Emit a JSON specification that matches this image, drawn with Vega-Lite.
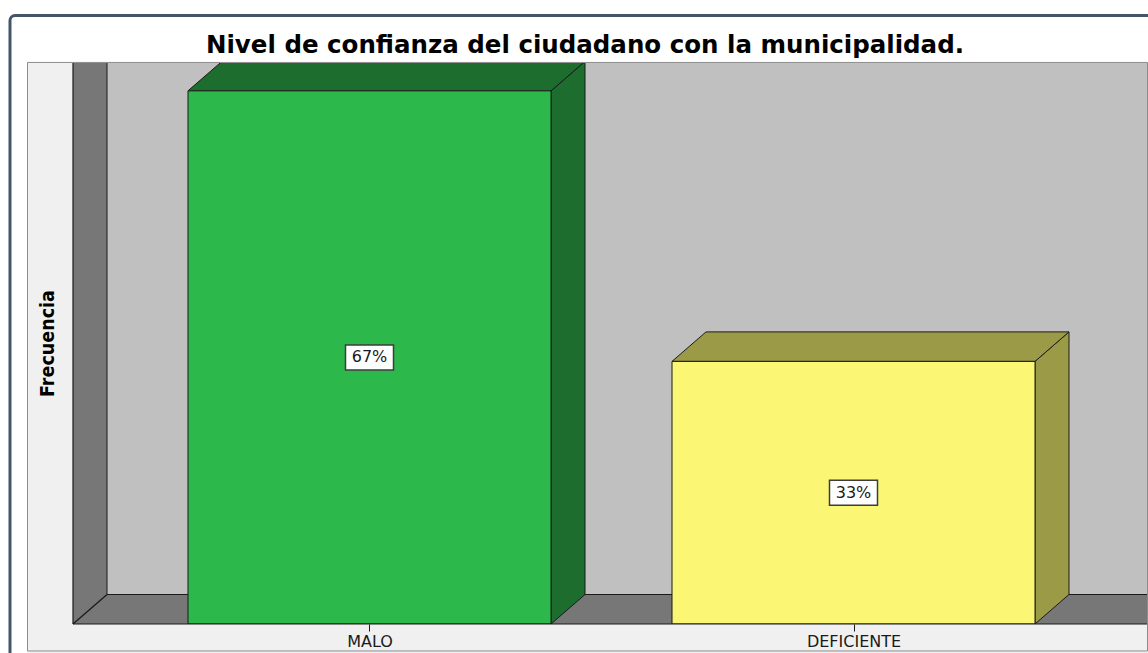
{
  "$schema": "https://vega.github.io/schema/vega-lite/v6.json",
  "width": 1074,
  "height": 561,
  "autosize": {"type": "none"},
  "padding": {"left": 73, "top": 63, "right": 1, "bottom": 29},
  "background": "#f0f0f0",
  "config": {
    "view": {"stroke": null},
    "axisX": {
      "grid": false, "domain": false,
      "ticks": true, "tickColor": "#1a1a1a", "tickSize": 7, "tickWidth": 1,
      "labelFont": "DejaVu Sans", "labelFontSize": 16, "labelColor": "#1a1a1a",
      "labelPadding": 2, "labelAngle": 0, "labelOverlap": false, "labelFlush": false
    },
    "axisY": {
      "grid": false, "ticks": false, "labels": false, "domain": false,
      "titleFont": "Liberation Sans Narrow, DejaVu Sans Condensed, DejaVu Sans",
      "titleFontSize": 19.5, "titleFontWeight": "bold", "titleColor": "#000000",
      "titleAngle": 270, "titleAlign": "center", "titleBaseline": "alphabetic",
      "titleX": -20, "titleY": 280
    }
  },
  "datasets": {
    "niveles": [
      {"nivel": "MALO", "proporcion": 0.67},
      {"nivel": "DEFICIENTE", "proporcion": 0.33}
    ]
  },
  "layer": [
    {
      "data": {"values": [{}]},
      "mark": {"type": "rect", "fill": "white"},
      "encoding": {
        "x": {"datum": 0.0, "type": "quantitative", "scale": {"domain": [0.3874, 2.6064], "nice": false, "zero": false}},
        "x2": {"datum": 0.29339},
        "y": {"datum": -0.2, "type": "quantitative", "scale": {"domain": [0, 0.705], "nice": false, "zero": false}},
        "y2": {"datum": 1.0}
      }
    },
    {
      "data": {"values": [{}]},
      "mark": {"type": "rect", "fill": "white"},
      "encoding": {
        "x": {"datum": 0.0, "type": "quantitative", "scale": {"domain": [0.3874, 2.6064], "nice": false, "zero": false}},
        "x2": {"datum": 2.8},
        "y": {"datum": 0.7057, "type": "quantitative", "scale": {"domain": [0, 0.705], "nice": false, "zero": false}},
        "y2": {"datum": 1.0}
      }
    },
    {
      "data": {"values": [{}]},
      "mark": {"type": "rect", "fill": "white", "fillOpacity": 0, "stroke": "#44546a", "strokeWidth": 3, "cornerRadius": 5},
      "encoding": {
        "x": {"datum": 0.25723, "type": "quantitative", "scale": {"domain": [0.3874, 2.6064], "nice": false, "zero": false}},
        "x2": {"datum": 2.6333},
        "y": {"datum": 0.7647, "type": "quantitative", "scale": {"domain": [0, 0.705], "nice": false, "zero": false}},
        "y2": {"datum": -0.0578}
      }
    },
    {
      "data": {"values": [{}]},
      "mark": {"type": "rect", "fill": "white", "fillOpacity": 0, "stroke": "#8c8c8c", "strokeWidth": 1},
      "encoding": {
        "x": {"datum": 0.29339, "type": "quantitative", "scale": {"domain": [0.3874, 2.6064], "nice": false, "zero": false}},
        "x2": {"datum": 2.60744},
        "y": {"datum": 0.7057, "type": "quantitative", "scale": {"domain": [0, 0.705], "nice": false, "zero": false}},
        "y2": {"datum": -0.0339}
      }
    },
    {
      "data": {"values": [{}]},
      "mark": {"type": "rect", "fill": "#777777"},
      "encoding": {
        "x": {"datum": 0.3874, "type": "quantitative", "scale": {"domain": [0.3874, 2.6064], "nice": false, "zero": false}},
        "x2": {"datum": 2.6064},
        "y": {"datum": 0, "type": "quantitative", "scale": {"domain": [0, 0.705], "nice": false, "zero": false}},
        "y2": {"datum": 0.705}
      }
    },
    {
      "data": {"values": [{}]},
      "mark": {"type": "rect", "fill": "#c0c0c0"},
      "encoding": {
        "x": {"datum": 0.45765, "type": "quantitative", "scale": {"domain": [0.3874, 2.6064], "nice": false, "zero": false}},
        "x2": {"datum": 2.6064},
        "y": {"datum": 0.03707, "type": "quantitative", "scale": {"domain": [0, 0.705], "nice": false, "zero": false}},
        "y2": {"datum": 0.705}
      }
    },
    {
      "data": {"values": [{}]},
      "mark": {"type": "rule", "stroke": "#1a1a1a", "strokeWidth": 1},
      "encoding": {
        "x": {"datum": 0.45765, "type": "quantitative", "scale": {"domain": [0.3874, 2.6064], "nice": false, "zero": false}},
        "y": {"datum": 0.03707, "type": "quantitative", "scale": {"domain": [0, 0.705], "nice": false, "zero": false}},
        "y2": {"datum": 0.705}
      }
    },
    {
      "data": {"values": [{}]},
      "mark": {"type": "rule", "stroke": "#1a1a1a", "strokeWidth": 1},
      "encoding": {
        "x": {"datum": 0.45765, "type": "quantitative", "scale": {"domain": [0.3874, 2.6064], "nice": false, "zero": false}},
        "x2": {"datum": 2.6064},
        "y": {"datum": 0.03707, "type": "quantitative", "scale": {"domain": [0, 0.705], "nice": false, "zero": false}}
      }
    },
    {
      "data": {"values": [{}]},
      "mark": {"type": "rule", "stroke": "#1a1a1a", "strokeWidth": 1.3},
      "encoding": {
        "x": {"datum": 0.3874, "type": "quantitative", "scale": {"domain": [0.3874, 2.6064], "nice": false, "zero": false}},
        "x2": {"datum": 0.45765},
        "y": {"datum": 0, "type": "quantitative", "scale": {"domain": [0, 0.705], "nice": false, "zero": false}},
        "y2": {"datum": 0.03707}
      }
    },
    {
      "data": {"name": "niveles"},
      "transform": [
        {"window": [{"op": "row_number", "as": "idx"}]},
        {"calculate": "datum.idx + 0.375", "as": "x1"},
        {"calculate": "[0, 1]", "as": "t"},
        {"flatten": ["t"]},
        {"calculate": "datum.x1 + datum.t * 0.07025", "as": "sx"},
        {"calculate": "datum.t * 0.03707", "as": "sy"},
        {"calculate": "datum.proporcion + datum.t * 0.03707", "as": "sy2"}
      ],
      "mark": {"type": "area", "orient": "vertical", "clip": true, "stroke": "#1a1a1a", "strokeWidth": 1},
      "encoding": {
        "x": {"field": "sx", "type": "quantitative", "title": null, "scale": {"domain": [0.3874, 2.6064], "nice": false, "zero": false}},
        "y": {"field": "sy", "type": "quantitative", "title": "Frecuencia", "stack": null, "scale": {"domain": [0, 0.705], "nice": false, "zero": false}},
        "y2": {"field": "sy2"},
        "detail": {"field": "nivel", "type": "nominal"},
        "fill": {"condition": {"test": "datum.nivel === 'MALO'", "value": "#1d6e2e"}, "value": "#9b9a47"}
      }
    },
    {
      "data": {"name": "niveles"},
      "transform": [
        {"window": [{"op": "row_number", "as": "idx"}]},
        {"calculate": "datum.idx - 0.375", "as": "x0"},
        {"calculate": "datum.idx + 0.375", "as": "x1"},
        {"calculate": "[0, 1]", "as": "t"},
        {"flatten": ["t"]},
        {"calculate": "datum.x0 + datum.t * 0.07025", "as": "tx0"},
        {"calculate": "datum.x1 + datum.t * 0.07025", "as": "tx1"},
        {"calculate": "datum.proporcion + datum.t * 0.03707", "as": "ty"}
      ],
      "mark": {"type": "area", "orient": "horizontal", "clip": true, "stroke": "#1a1a1a", "strokeWidth": 1},
      "encoding": {
        "y": {"field": "ty", "type": "quantitative", "title": "Frecuencia", "scale": {"domain": [0, 0.705], "nice": false, "zero": false}},
        "x": {"field": "tx0", "type": "quantitative", "title": null, "stack": null, "scale": {"domain": [0.3874, 2.6064], "nice": false, "zero": false}},
        "x2": {"field": "tx1"},
        "detail": {"field": "nivel", "type": "nominal"},
        "fill": {"condition": {"test": "datum.nivel === 'MALO'", "value": "#1d6e2e"}, "value": "#9b9a47"}
      }
    },
    {
      "data": {"name": "niveles"},
      "transform": [
        {"window": [{"op": "row_number", "as": "idx"}]},
        {"calculate": "datum.idx - 0.375", "as": "x0"},
        {"calculate": "datum.idx + 0.375", "as": "x1"}
      ],
      "mark": {"type": "rect", "clip": true, "stroke": "#1a1a1a", "strokeWidth": 1},
      "encoding": {
        "x": {
          "field": "x0", "type": "quantitative", "title": null,
          "scale": {"domain": [0.3874, 2.6064], "nice": false, "zero": false},
          "axis": {
            "values": [1, 2],
            "labelExpr": "datum.value < 1.5 ? 'MALO' : 'DEFICIENTE'",
            "title": null
          }
        },
        "x2": {"field": "x1"},
        "y": {
          "field": "proporcion", "type": "quantitative", "title": "Frecuencia",
          "scale": {"domain": [0, 0.705], "nice": false, "zero": false},
          "axis": {"title": "Frecuencia"}
        },
        "y2": {"datum": 0},
        "fill": {"condition": {"test": "datum.nivel === 'MALO'", "value": "#2db84b"}, "value": "#fbf774"}
      }
    },
    {
      "data": {"values": [{}]},
      "mark": {"type": "rule", "stroke": "#1a1a1a", "strokeWidth": 1.2},
      "encoding": {
        "x": {"datum": 0.3874, "type": "quantitative", "scale": {"domain": [0.3874, 2.6064], "nice": false, "zero": false}},
        "y": {"datum": 0, "type": "quantitative", "scale": {"domain": [0, 0.705], "nice": false, "zero": false}},
        "y2": {"datum": 0.705}
      }
    },
    {
      "data": {"values": [{}]},
      "mark": {"type": "rule", "stroke": "#1a1a1a", "strokeWidth": 1.2},
      "encoding": {
        "x": {"datum": 0.3874, "type": "quantitative", "scale": {"domain": [0.3874, 2.6064], "nice": false, "zero": false}},
        "x2": {"datum": 2.6064},
        "y": {"datum": 0, "type": "quantitative", "scale": {"domain": [0, 0.705], "nice": false, "zero": false}}
      }
    },
    {
      "data": {"name": "niveles"},
      "transform": [
        {"window": [{"op": "row_number", "as": "idx"}]},
        {"calculate": "datum.proporcion / 2", "as": "mitad"}
      ],
      "mark": {"type": "point", "shape": "M-1,-0.52L1,-0.52L1,0.52L-1,0.52Z", "size": 2304, "filled": true, "fill": "white", "stroke": "#3c3c3c", "strokeWidth": 1.5, "opacity": 1},
      "encoding": {
        "x": {"field": "idx", "type": "quantitative", "title": null, "scale": {"domain": [0.3874, 2.6064], "nice": false, "zero": false}},
        "y": {"field": "mitad", "type": "quantitative", "title": "Frecuencia", "scale": {"domain": [0, 0.705], "nice": false, "zero": false}}
      }
    },
    {
      "data": {"name": "niveles"},
      "transform": [
        {"window": [{"op": "row_number", "as": "idx"}]},
        {"calculate": "datum.proporcion / 2", "as": "mitad"}
      ],
      "mark": {"type": "text", "font": "DejaVu Sans", "fontSize": 16, "color": "#1a1a1a", "align": "center", "baseline": "middle"},
      "encoding": {
        "x": {"field": "idx", "type": "quantitative", "title": null, "scale": {"domain": [0.3874, 2.6064], "nice": false, "zero": false}},
        "y": {"field": "mitad", "type": "quantitative", "title": "Frecuencia", "scale": {"domain": [0, 0.705], "nice": false, "zero": false}},
        "text": {"field": "proporcion", "type": "quantitative", "format": ".0%"}
      }
    },
    {
      "data": {"values": [{"titulo": "Nivel de confianza del ciudadano con la municipalidad."}]},
      "mark": {"type": "text", "font": "DejaVu Sans", "fontSize": 24.5, "fontWeight": "bold", "color": "#000000", "align": "center", "baseline": "alphabetic"},
      "encoding": {
        "x": {"datum": 1.4452, "type": "quantitative", "scale": {"domain": [0.3874, 2.6064], "nice": false, "zero": false}},
        "y": {"datum": 0.7176, "type": "quantitative", "scale": {"domain": [0, 0.705], "nice": false, "zero": false}},
        "text": {"field": "titulo", "type": "nominal"}
      }
    }
  ]
}
